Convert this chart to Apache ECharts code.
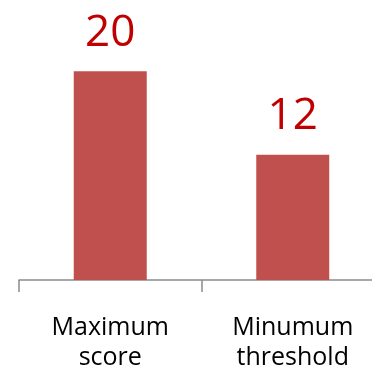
<!DOCTYPE html>
<html>
<head>
<meta charset="utf-8">
<script src="https://cdn.jsdelivr.net/npm/echarts@6/dist/echarts.min.js"></script>
<style>
  html, body { margin: 0; padding: 0; background: #fff; }
  #chart { width: 372px; height: 372px; }
</style>
</head>
<body>
<div id="chart"></div>
<script>
var categories = ['Maximum\nscore', 'Minumum\nthreshold'];
var values = [20, 12];

var chart = echarts.init(document.getElementById('chart'));
var option = {
    animation: false,
    grid: { left: 19, right: -12, top: 19, bottom: 92, containLabel: false, outerBoundsMode: 'none' },
    xAxis: {
        type: 'category',
        data: categories,
        axisLine: { lineStyle: { color: '#8c8c8c', width: 1.5 } },
        axisTick: { show: true, interval: 0, length: 12, lineStyle: { color: '#8c8c8c', width: 1.5 } },
        axisLabel: {
            color: '#000',
            fontFamily: 'Open Sans',
            fontSize: 25,
            lineHeight: 30,
            margin: 33
        }
    },
    yAxis: {
        type: 'value',
        min: 0,
        max: 25,
        show: false,
        splitLine: { show: false }
    },
    series: [{
        type: 'bar',
        data: values,
        barWidth: '40%',
        itemStyle: { color: '#C0504D' },
        label: {
            show: true,
            position: 'top',
            distance: 16,
            color: '#C00000',
            fontFamily: 'Open Sans',
            fontSize: 44
        }
    }]
};
chart.setOption(option);
</script>
</body>
</html>
